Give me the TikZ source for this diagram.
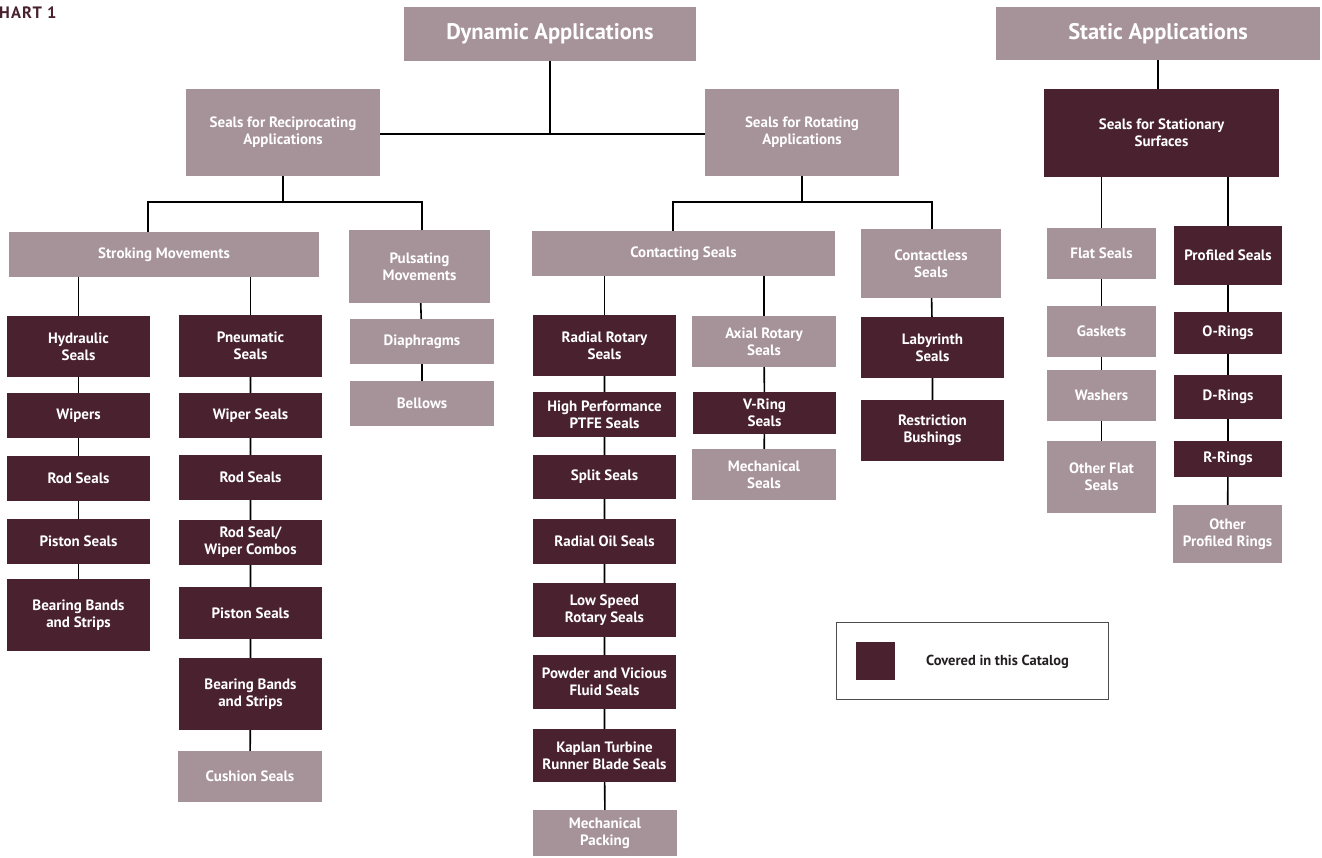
\documentclass[tikz,border=0pt]{standalone}
\usepackage{fontspec}
\setmainfont{PT Sans}
\usetikzlibrary{backgrounds}
\definecolor{lightbox}{RGB}{166,146,153}
\definecolor{darkbox}{RGB}{73,33,47}
\definecolor{legtext}{RGB}{35,31,32}
\tikzset{
  base/.style={rectangle, inner sep=0pt, align=center, text=white, font=\bfseries\fontsize{15}{16.8}\selectfont},
  lbox/.style={base, fill=lightbox},
  dbox/.style={base, fill=darkbox},
  big/.style={font=\bfseries\fontsize{22.5}{26}\selectfont},
  conn/.style={line width=1.6pt, black},
}
% \bx{style}{name}{x1}{x2}{y1}{y2}{text}
\newcommand{\bx}[7]{\node[#1, minimum width={(#4)-(#3)}, minimum height={(#6)-(#5)}] (#2) at ({((#3)+(#4))/2},{((#5)+(#6))/2}) {#7};}
\begin{document}
\begin{tikzpicture}[x=1pt,y=-1pt]
\useasboundingbox (0,0) rectangle (1322,857);
\node[anchor=base west, text=darkbox, font=\bfseries\fontsize{16.5}{18}\selectfont\addfontfeature{LetterSpace=7}, inner sep=0pt] (chart) at (-1,18) {HART 1};

% top level
\bx{lbox,big}{dyn}{404}{696}{7}{61}{Dynamic Applications}
\bx{lbox,big}{stat}{996}{1320}{7}{60}{Static Applications}
\bx{lbox}{recip}{186}{380}{89}{176}{Seals for Reciprocating\\Applications}
\bx{lbox}{rot}{705}{899}{89}{176}{Seals for Rotating\\Applications}
\bx{dbox}{stationary}{1044}{1279}{89}{177}{Seals for Stationary\\Surfaces}

% second level
\bx{lbox}{stroking}{9}{319}{232}{277}{Stroking Movements}
\bx{lbox}{puls}{349}{490}{230}{303}{Pulsating\\Movements}
\bx{lbox}{contacting}{532}{835}{231}{276}{Contacting Seals}
\bx{lbox}{contactless}{861}{1001}{229}{298}{Contactless\\Seals}
\bx{lbox}{flat}{1047}{1156}{228}{279}{Flat Seals}
\bx{dbox}{profiled}{1174}{1282}{226}{285}{Profiled Seals}

% hydraulic column
\bx{dbox}{hyd}{7}{150}{316}{377}{Hydraulic\\Seals}
\bx{dbox}{wipers}{7}{150}{393}{438}{Wipers}
\bx{dbox}{rodA}{7}{150}{456}{501}{Rod Seals}
\bx{dbox}{pistonA}{7}{150}{519}{564}{Piston Seals}
\bx{dbox}{bearingA}{7}{150}{579}{651}{Bearing Bands\\and Strips}

% pneumatic column
\bx{dbox}{pneu}{179}{322}{315}{377}{Pneumatic\\Seals}
\bx{dbox}{wiperseals}{179}{322}{393}{438}{Wiper Seals}
\bx{dbox}{rodB}{179}{322}{455}{500}{Rod Seals}
\bx{dbox}{combo}{179}{322}{520}{565}{Rod Seal/\\Wiper Combos}
\bx{dbox}{pistonB}{179}{322}{587}{639}{Piston Seals}
\bx{dbox}{bearingB}{179}{322}{658}{730}{Bearing Bands\\and Strips}
\bx{lbox}{cushion}{178}{322}{751}{802}{Cushion Seals}

% pulsating column
\bx{lbox}{diaph}{350}{494}{319}{364}{Diaphragms}
\bx{lbox}{bellows}{350}{494}{381}{426}{Bellows}

% contacting column
\bx{dbox}{radrot}{533}{676}{315}{376}{Radial Rotary\\Seals}
\bx{dbox}{hiperf}{533}{676}{392}{437}{High Performance\\PTFE Seals}
\bx{dbox}{split}{533}{676}{455}{499}{Split Seals}
\bx{dbox}{radoil}{533}{676}{519}{564}{Radial Oil Seals}
\bx{dbox}{lowspeed}{533}{676}{583}{637}{Low Speed\\Rotary Seals}
\bx{dbox}{powder}{533}{676}{655}{709}{Powder and Vicious\\Fluid Seals}
\bx{dbox}{kaplan}{533}{676}{729}{782}{Kaplan Turbine\\Runner Blade Seals}
\bx{lbox}{mechpack}{533}{677}{810}{856}{Mechanical\\Packing}

% axial column
\bx{lbox}{axial}{692}{836}{316}{367}{Axial Rotary\\Seals}
\bx{dbox}{vring}{693}{836}{392}{434}{V-Ring\\Seals}
\bx{lbox}{mechseals}{692}{836}{449}{500}{Mechanical\\Seals}

% contactless column
\bx{dbox}{laby}{861}{1004}{317}{378}{Labyrinth\\Seals}
\bx{dbox}{restr}{861}{1004}{400}{461}{Restriction\\Bushings}

% flat column
\bx{lbox}{gaskets}{1047}{1156}{306}{357}{Gaskets}
\bx{lbox}{washers}{1047}{1156}{370}{421}{Washers}
\bx{lbox}{otherflat}{1047}{1156}{441}{513}{Other Flat\\Seals}

% profiled column
\bx{dbox}{orings}{1174}{1282}{312}{354}{O-Rings}
\bx{dbox}{drings}{1174}{1282}{375}{419}{D-Rings}
\bx{dbox}{rrings}{1174}{1282}{441}{477}{R-Rings}
\bx{lbox}{otherprof}{1173}{1282}{505}{563}{Other\\Profiled Rings}

% legend
\node[draw=legtext!80, line width=0.9pt, minimum width=272, minimum height=77, inner sep=0pt] (legend) at (972,660.5) {};
\node[fill=darkbox, minimum width=39, minimum height=38, inner sep=0pt] (swatch) at (875.5,661) {};
\node[text=legtext, font=\bfseries\fontsize{14.5}{16}\selectfont, inner sep=0pt] (legtxt) at (997.5,662) {Covered in this Catalog};

% junction coordinates
\coordinate (j1) at (550,134);
\coordinate (r1) at (148,202);
\coordinate (r2) at (422,202);
\coordinate (t1) at (673,202);
\coordinate (t2) at (932,202);

\begin{scope}[on background layer]
\draw[conn] (dyn.south) -- (j1);
\draw[conn] (recip.east |- j1) -- (rot.west |- j1);
\draw[conn] (recip.south) -- (recip.south |- r1);
\draw[conn] (r1 |- stroking.north) -- (r1) -- (r2) -- (r2 |- puls.north);
\draw[conn] (rot.south) -- (rot.south |- t1);
\draw[conn] (t1 |- contacting.north) -- (t1) -- (t2) -- (t2 |- contactless.north);
\draw[conn] (stat.south) -- (stat.south |- stationary.north);
% stroking branches
\draw[conn] (hyd.north |- stroking.south) -- (hyd.north);
\draw[conn] (pneu.north |- stroking.south) -- (pneu.north);
\draw[conn] (hyd) -- (wipers) -- (rodA) -- (pistonA) -- (bearingA);
\draw[conn] (pneu) -- (wiperseals) -- (rodB) -- (combo) -- (pistonB) -- (bearingB) -- (cushion);
\draw[conn] (puls) -- (diaph) -- (bellows);
% contacting branches
\draw[conn] (radrot.north |- contacting.south) -- (radrot.north);
\draw[conn] (axial.north |- contacting.south) -- (axial.north);
\draw[conn] (radrot) -- (hiperf) -- (split) -- (radoil) -- (lowspeed) -- (powder) -- (kaplan) -- (mechpack);
\draw[conn] (axial) -- (vring) -- (mechseals);
\draw[conn] (contactless) -- (laby) -- (restr);
% stationary branches
\draw[conn] (flat.north |- stationary.south) -- (flat.north);
\draw[conn] (profiled.north |- stationary.south) -- (profiled.north);
\draw[conn] (flat) -- (gaskets) -- (washers) -- (otherflat);
\draw[conn] (profiled) -- (orings) -- (drings) -- (rrings) -- (otherprof);
\end{scope}
\end{tikzpicture}
\end{document}
